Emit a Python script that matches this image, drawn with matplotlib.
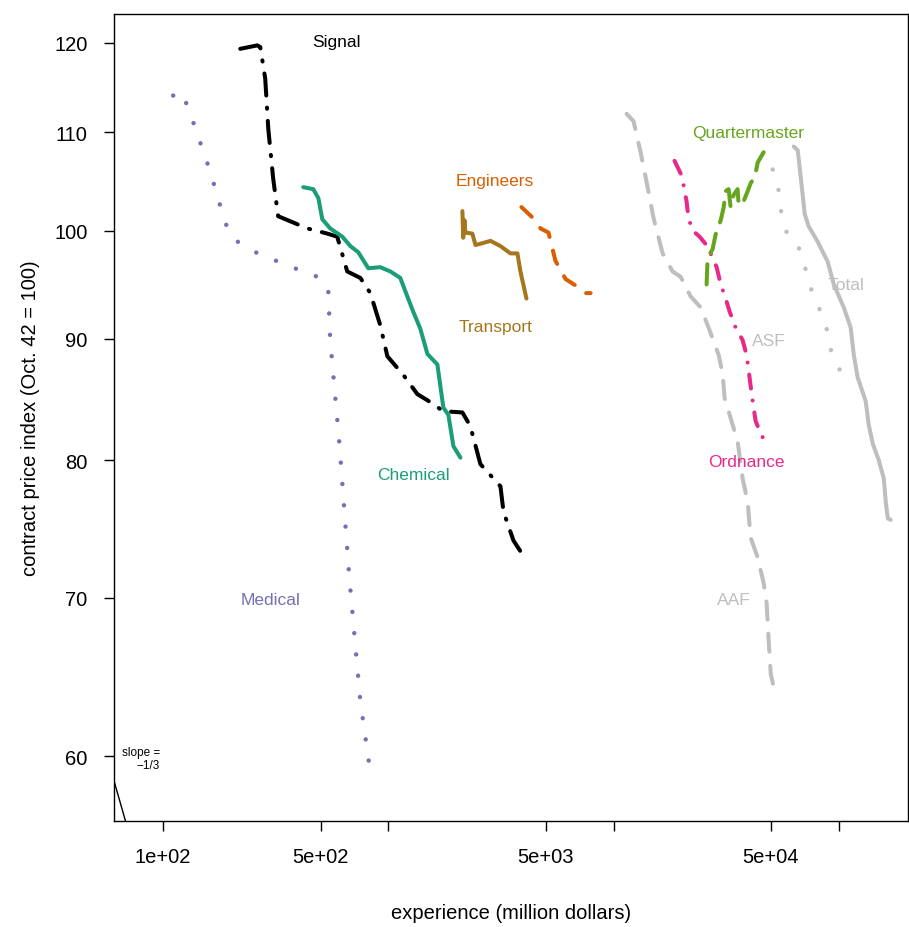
import numpy as np
import matplotlib
matplotlib.use("Agg")
import matplotlib.pyplot as plt
from matplotlib.ticker import FixedLocator, NullLocator

plt.rcParams['font.family'] = ['Liberation Sans', 'DejaVu Sans']

# experience (million dollars), contract price index (Oct. 42 = 100)
medical_x = [110.8, 121.4, 137.4, 161.8, 186.7, 198.6, 226.8, 264, 363, 499, 541, 552, 605, 671, 751, 840]
medical_y = [114.0, 114.4, 110.8, 105.9, 101.1, 99.5, 98.5, 97.8, 96.6, 95.5, 94.4, 89.9, 81.5, 71.4, 63.3, 58.7]

signal_x = [220, 262, 270, 284, 293, 308, 324, 367, 437, 536, 593, 657, 751, 832, 921, 990,
            1167, 1346, 1491, 1755, 2133, 2312, 2563, 3147, 3246, 3594, 3981]
signal_y = [119.3, 119.7, 119.5, 115.9, 110.4, 105.2, 101.4, 100.9, 100.2, 99.7, 99.4, 96.1, 95.5, 94.1,
            91.2, 88.5, 86.9, 85.3, 84.8, 83.9, 83.8, 82.7, 79.7, 78.0, 76.1, 74.0, 72.9]

chemical_x = [419, 464, 489, 509, 552, 625, 678, 736, 815, 921, 1021, 1130, 1214, 1291, 1387,
              1491, 1651, 1755, 1848, 1945, 2090]
chemical_y = [104.3, 104.1, 103.2, 101.1, 100.2, 99.4, 98.5, 97.9, 96.4, 96.5, 96.1, 95.5, 93.8, 92.4,
              90.9, 88.7, 87.8, 84.2, 83.6, 81.1, 80.2]

transport_x = [2133, 2150, 2178, 2198, 2361, 2437, 2642, 2840, 3147, 3485, 3743, 3860, 4105]
transport_y = [101.9, 99.3, 101.0, 99.8, 99.7, 98.6, 98.8, 99.0, 98.5, 97.8, 97.8, 96.1, 93.6]

engineers_x = [3900, 4498, 4740, 5142, 5522, 6120, 6780, 7510, 7910]
engineers_y = [102.3, 101.0, 100.2, 99.8, 97.1, 95.4, 94.8, 94.1, 94.1]

aaf_x = [11430, 12270, 13190, 14170, 15060, 16520, 18290, 19860, 21990, 24380, 26420, 29310, 30510,
         31130, 33800, 35560, 37430, 39430, 40620, 43650, 46420, 47860, 48870, 49910, 51400]
aaf_y = [112.0, 111.2, 107.9, 104.3, 101.2, 97.8, 96.1, 95.6, 93.8, 92.8, 91.0, 88.6, 87.0, 85.0,
         82.8, 81.5, 78.6, 76.8, 74.2, 72.8, 71.0, 69.6, 67.1, 65.0, 64.2]

ordnance_x = [18660, 19860, 20470, 21090, 21530, 22440, 24110, 25640, 26980, 28700, 29920, 31480,
              32810, 34850, 37430, 38990, 39810, 40620, 41500, 42760, 44570, 47420]
ordnance_y = [107.0, 105.7, 104.5, 102.9, 101.2, 100.0, 99.4, 98.7, 97.8, 96.5, 94.9, 93.6, 92.4,
              91.0, 89.9, 88.6, 87.3, 86.0, 84.7, 83.1, 82.3, 81.3]

qm_x = [25900, 26170, 27540, 28390, 29920, 30850, 31480, 32430, 33110, 34130, 35560, 35940, 37840,
        39430, 40620, 42370, 43650, 44570, 46420]
qm_y = [94.9, 97.4, 98.2, 99.6, 101.0, 102.3, 103.9, 104.1, 102.3, 103.5, 104.1, 102.5, 102.9,
        103.9, 104.7, 105.3, 106.8, 107.2, 107.9]

asf_x = [50900, 53550, 54660, 55800, 58770, 65060, 69180, 72110, 75900, 80700, 86700, 90300, 93200,
         100000, 108600]
asf_y = [106.1, 104.8, 103.0, 101.5, 99.8, 98.9, 97.3, 95.9, 94.3, 93.0, 91.6, 90.1, 88.6, 87.5, 86.3]

total_x = [63100, 65770, 67140, 69180, 70640, 73560, 80700, 89390, 95060, 105300, 113000, 116700,
           121400, 131800, 135900, 141600, 150600, 158500, 161800, 165200, 170300]
total_y = [108.5, 108.1, 106.2, 103.5, 101.6, 100.4, 98.9, 97.0, 94.9, 92.8, 91.0, 88.6, 86.7, 84.7,
           82.8, 81.3, 80.0, 78.6, 76.8, 75.6, 75.5]

GREY = '#bebebe'

fig = plt.figure(figsize=(9.09, 9.28), dpi=100)
ax = fig.add_axes([0.1254, 0.1142, 0.874, 0.8696])
ax.set_xscale('log')
ax.set_yscale('log')

lw = 2.9
ax.plot(medical_x, medical_y, color='#7570b3', lw=3.2, ls=(0, (0.01, 4.8)), dash_capstyle='round')
ax.plot(signal_x, signal_y, color='black', lw=lw, ls=(0, (5.5, 3, 0.3, 3)), dash_capstyle='round')
ax.plot(chemical_x, chemical_y, color='#1b9e77', lw=lw, solid_capstyle='round')
ax.plot(transport_x, transport_y, color='#a6761d', lw=lw, solid_capstyle='round')
ax.plot(engineers_x, engineers_y, color='#d95f02', lw=lw, ls=(0, (3.5, 3.5)), dash_capstyle='round')
ax.plot(aaf_x, aaf_y, color=GREY, lw=lw, ls=(0, (4.5, 3.5)), dash_capstyle='round')
ax.plot(ordnance_x, ordnance_y, color='#e7298a', lw=lw, ls=(0, (3.5, 3, 0.01, 3)), dash_capstyle='round')
ax.plot(qm_x, qm_y, color='#66a61e', lw=lw, ls=(0, (5, 3)), dash_capstyle='round')
ax.plot(asf_x, asf_y, color=GREY, lw=3.2, ls=(0, (0.01, 4.8)), dash_capstyle='round')
ax.plot(total_x, total_y, color=GREY, lw=lw, solid_capstyle='round')

labels = [
    ('Signal', 588, 120.1, 'black'),
    ('Engineers', 2958, 105.0, '#d95f02'),
    ('Transport', 2992, 91.1, '#a6761d'),
    ('Chemical', 1291, 78.9, '#1b9e77'),
    ('Medical', 299, 69.9, '#7570b3'),
    ('Quartermaster', 39430, 110.0, '#66a61e'),
    ('Total', 107400, 94.9, GREY),
    ('ASF', 48870, 89.9, GREY),
    ('Ordnance', 39000, 79.9, '#e7298a'),
    ('AAF', 34130, 69.9, GREY),
]
for name, lx, ly, c in labels:
    ax.text(lx, ly, name, color=c, fontsize=12.5, ha='center', va='center')

# slope -1/3 reference line
sx = np.array([55.0, 75.0])
ax.plot(sx, 58.6 * (sx / 60.5) ** (-1 / 3), color='black', lw=1)
ax.text(97, 59.9, 'slope =\n\u22121/3', fontsize=8.5, ha='right', va='center', linespacing=1.1)

ax.set_xlim(60.5, 204000)
ax.set_ylim(56.35, 123.4)

xt = [100, 500, 1000, 5000, 10000, 50000, 100000]
xl = ['1e+02', '5e+02', '', '5e+03', '', '5e+04', '']
ax.xaxis.set_major_locator(FixedLocator(xt))
ax.set_xticklabels(xl)
ax.xaxis.set_minor_locator(NullLocator())
yt = [60, 70, 80, 90, 100, 110, 120]
ax.yaxis.set_major_locator(FixedLocator(yt))
ax.set_yticklabels([str(v) for v in yt])
ax.yaxis.set_minor_locator(NullLocator())
ax.tick_params(length=7, width=1, labelsize=14.5, pad=12)
for s in ax.spines.values():
    s.set_linewidth(1)

ax.set_xlabel('experience (million dollars)', fontsize=14.5, labelpad=26)
ax.set_ylabel('contract price index (Oct. 42 = 100)', fontsize=14.5, labelpad=10)

fig.savefig('out.png', dpi=100)
